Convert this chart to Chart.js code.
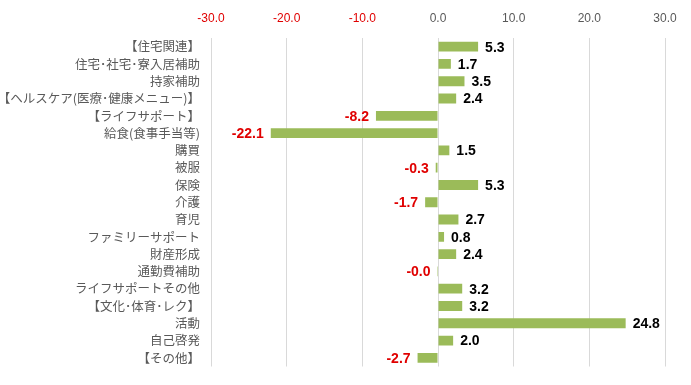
<!DOCTYPE html>
<html>
<head>
<meta charset="utf-8">
<script src="https://cdn.jsdelivr.net/npm/chart.js@4"></script>
<style>
html,body{margin:0;padding:0;background:#fff;}
#wrap{width:691px;height:385px;}
</style>
</head>
<body>
<div id="wrap"><canvas id="c" width="691" height="385"></canvas></div>
<script>
const categories = ["【住宅関連】","住宅･社宅･寮入居補助","持家補助","【ヘルスケア(医療･健康メニュー)】","【ライフサポート】","給食(食事手当等)","購買","被服","保険","介護","育児","ファミリーサポート","財産形成","通勤費補助","ライフサポートその他","【文化･体育･レク】","活動","自己啓発","【その他】"];
const values = [5.3, 1.7, 3.5, 2.4, -8.2, -22.1, 1.5, -0.3, 5.3, -1.7, 2.7, 0.8, 2.4, -0.01, 3.2, 3.2, 24.8, 2.0, -2.7];
const tickMin = -30, tickMax = 30, tickStep = 10;

const labelPlugin = {
  id: 'valueLabels',
  afterDatasetsDraw(chart) {
    const ctx = chart.ctx;
    const meta = chart.getDatasetMeta(0);
    ctx.save();
    ctx.font = 'bold 14px "Liberation Sans", Arial, sans-serif';
    ctx.textBaseline = 'middle';
    meta.data.forEach((bar, i) => {
      const v = values[i];
      const txt = v.toFixed(1);
      if (v < 0) {
        ctx.fillStyle = '#e00000';
        ctx.textAlign = 'right';
        ctx.fillText(txt, Math.min(bar.x, bar.base) - 7, bar.y + 1);
      } else {
        ctx.fillStyle = '#000000';
        ctx.textAlign = 'left';
        ctx.fillText(txt, Math.max(bar.x, bar.base) + 7, bar.y + 1);
      }
    });
    ctx.restore();
  }
};

new Chart(document.getElementById('c'), {
  type: 'bar',
  data: {
    labels: categories,
    datasets: [{
      data: values,
      backgroundColor: '#9BBB59',
      borderWidth: 0,
      barPercentage: 0.57,
      categoryPercentage: 1.0
    }]
  },
  options: {
    indexAxis: 'y',
    responsive: false,
    animation: false,
    layout: { padding: { left: 0, right: 26, top: 0, bottom: 10 } },
    plugins: { legend: { display: false }, tooltip: { enabled: false } },
    scales: {
      x: {
        position: 'top',
        min: tickMin, max: tickMax,
        ticks: {
          stepSize: tickStep,
          padding: 12,
          font: { size: 12, family: '"Liberation Sans Narrow", "Liberation Sans", Arial, sans-serif' },
          color: (c) => c.tick.value < 0 ? '#e00000' : '#595959',
          callback: (v) => Number(v).toFixed(1)
        },
        grid: { color: '#d9d9d9', drawTicks: false, lineWidth: 1 },
        border: { display: false },
        afterFit: (s) => { s.height = 38; }
      },
      y: {
        ticks: {
          padding: 11,
          autoSkip: false,
          font: { size: 12.5, family: '"Noto Sans CJK JP", sans-serif' },
          color: '#595959'
        },
        grid: { display: false, drawTicks: false },
        border: { display: false },
        afterFit: (s) => { s.width = 211; }
      }
    }
  },
  plugins: [labelPlugin]
});
</script>
</body>
</html>
